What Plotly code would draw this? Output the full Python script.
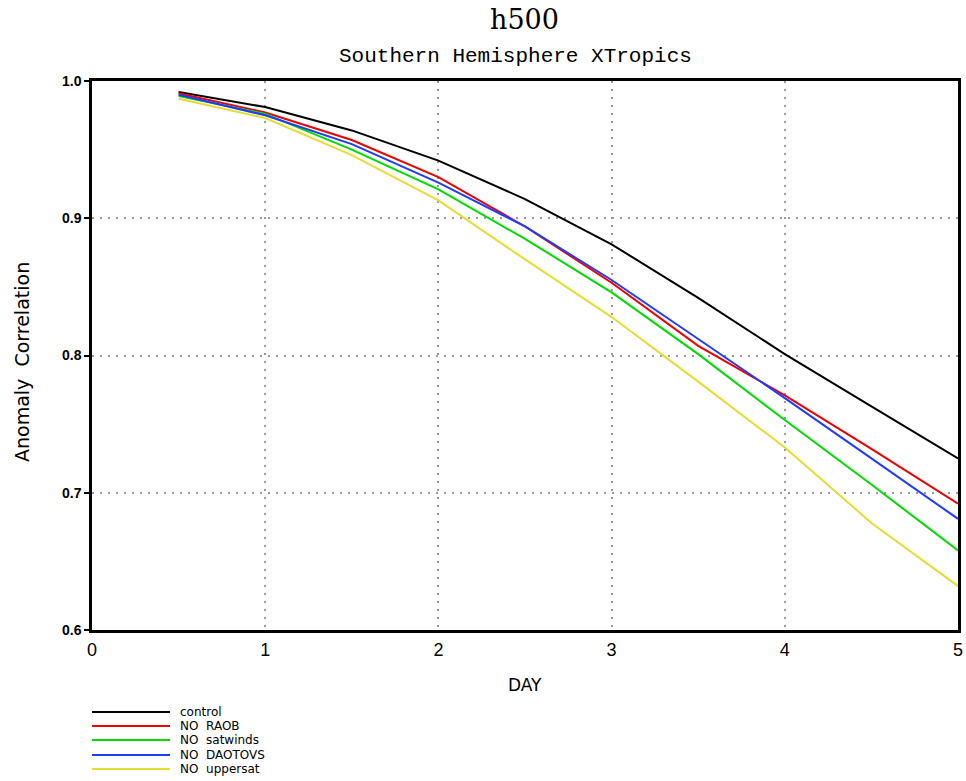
import plotly.graph_objects as go

days = [0.5, 1, 1.5, 2, 2.5, 3, 3.5, 4, 4.5, 5]
control = [0.992, 0.981, 0.964, 0.942, 0.914, 0.881, 0.842, 0.801, 0.763, 0.725]
no_raob = [0.991, 0.977, 0.957, 0.930, 0.894, 0.853, 0.807, 0.771, 0.732, 0.692]
no_satwinds = [0.989, 0.976, 0.950, 0.921, 0.885, 0.846, 0.801, 0.753, 0.706, 0.658]
no_daotovs = [0.990, 0.975, 0.954, 0.926, 0.894, 0.855, 0.812, 0.769, 0.725, 0.681]
no_uppersat = [0.987, 0.973, 0.946, 0.913, 0.870, 0.828, 0.781, 0.733, 0.678, 0.632]

series_names = ["control", "NO  RAOB", "NO  satwinds", "NO  DAOTOVS", "NO  uppersat"]
series_values = [control, no_raob, no_satwinds, no_daotovs, no_uppersat]
colors = ["#000000", "#f00000", "#00dc00", "#1e3cff", "#e6dc32"]

x_ticks = [0, 1, 2, 3, 4, 5]
y_ticks = [0.6, 0.7, 0.8, 0.9, 1.0]
y_tick_labels = ["0.6", "0.7", "0.8", "0.9", "1.0"]

W, H = 966, 781
L, T, R, B = 92, 81, 8, 151
pw, ph = W - L - R, H - T - B

def px(xp):
    return (xp - L) / pw

def py(yp):
    return (H - B - yp) / ph

fig = go.Figure()
for name, vals, col in zip(series_names, series_values, colors):
    fig.add_trace(go.Scatter(x=days, y=vals, mode="lines", name=name,
                             line=dict(color=col, width=2), showlegend=False))

grid_common = dict(showgrid=True, gridcolor="#9a9a9a", griddash="2px,6px", gridwidth=2,
                   showline=True, linecolor="black", linewidth=2.5, mirror=True,
                   zeroline=False, automargin=False)

fig.update_layout(
    width=W, height=H,
    margin=dict(l=L, r=R, t=T, b=B, autoexpand=False),
    paper_bgcolor="white", plot_bgcolor="white",
    xaxis=dict(range=[0, 5], tickvals=x_ticks, ticktext=[str(v) for v in x_ticks],
               ticks="", ticklabelstandoff=2,
               tickfont=dict(family="Liberation Sans", size=18, color="black"),
               **grid_common),
    yaxis=dict(range=[0.6, 1.0], tickvals=y_ticks, ticktext=y_tick_labels,
               ticks="outside", ticklen=5, tickwidth=1.5, tickcolor="black",
               tickfont=dict(family="Liberation Sans", size=14, color="black", weight="bold"),
               **grid_common),
)

annotations = [
    dict(text="h500", x=px(524), y=py(20), xref="paper", yref="paper",
         showarrow=False, xanchor="center", yanchor="middle",
         font=dict(family="DejaVu Serif", size=27, color="black")),
    dict(text="Southern Hemisphere XTropics", x=px(515), y=py(57), xref="paper", yref="paper",
         showarrow=False, xanchor="center", yanchor="middle",
         font=dict(family="Liberation Mono", size=21, color="black")),
    dict(text="DAY", x=px(525), y=py(685), xref="paper", yref="paper",
         showarrow=False, xanchor="center", yanchor="middle",
         font=dict(family="DejaVu Sans", size=17, color="black")),
    dict(text="Anomaly  Correlation", x=px(22), y=py(362), xref="paper", yref="paper",
         showarrow=False, xanchor="center", yanchor="middle", textangle=-90,
         font=dict(family="DejaVu Sans", size=19, color="black")),
]

shapes = []
leg_y = [712, 726, 740, 755, 769]
for name, col, ly in zip(series_names, colors, leg_y):
    shapes.append(dict(type="line", xref="paper", yref="paper",
                       x0=px(92), x1=px(170), y0=py(ly), y1=py(ly),
                       line=dict(color=col, width=2)))
    annotations.append(dict(text=name, x=px(179), y=py(ly), xref="paper", yref="paper",
                            showarrow=False, xanchor="left", yanchor="middle",
                            borderpad=0,
                            font=dict(family="DejaVu Sans", size=12, color="black")))

fig.update_layout(annotations=annotations, shapes=shapes)
fig.write_html(
    "out.html",
    config={"displayModeBar": False},
    post_script="document.body.style.margin='0';document.body.style.overflow='hidden';",
)
